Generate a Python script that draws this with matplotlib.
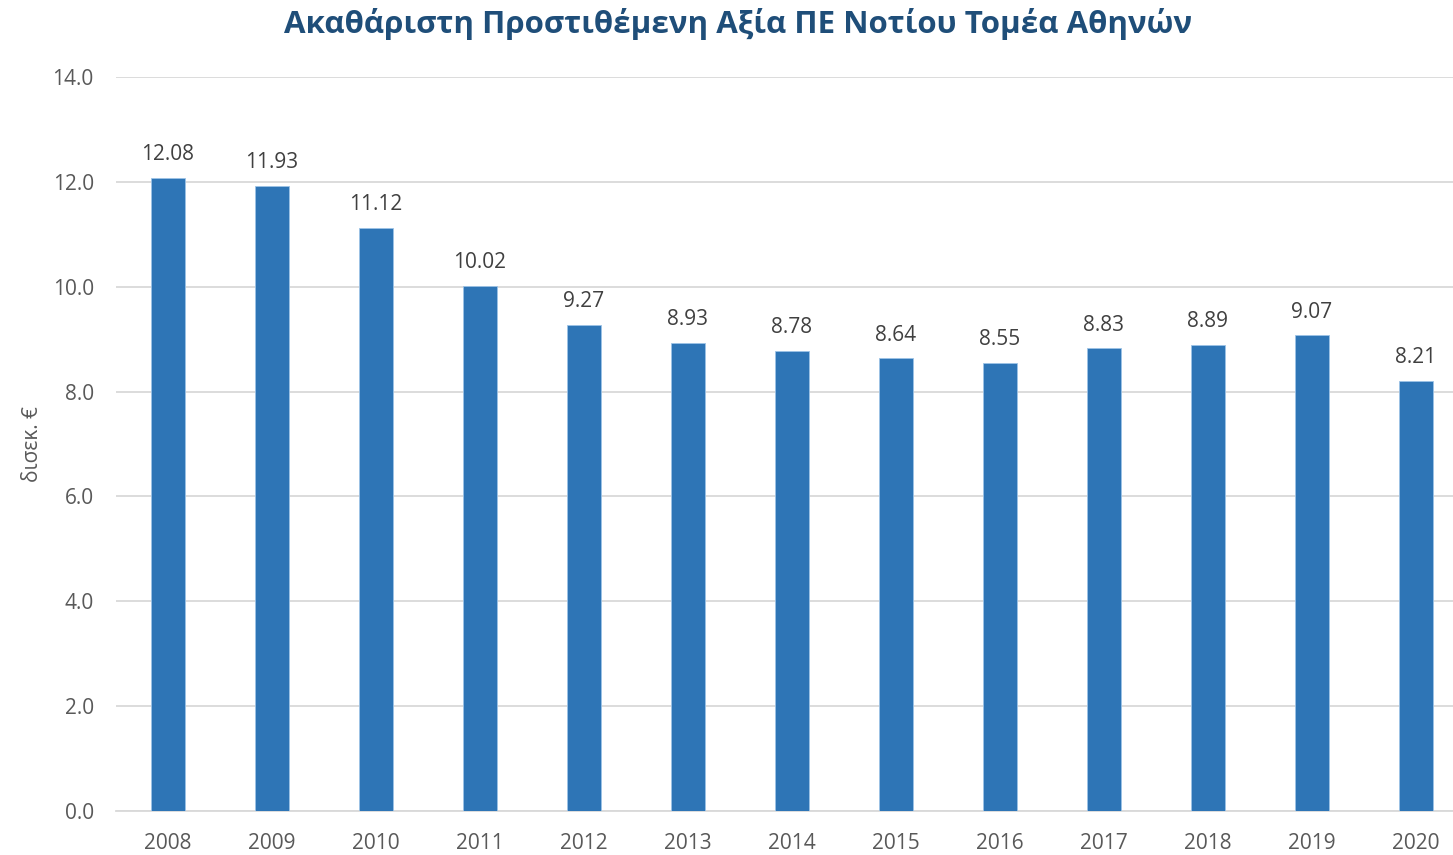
import matplotlib
matplotlib.use("Agg")
import matplotlib.pyplot as plt

# Ακαθάριστη Προστιθέμενη Αξία, δισεκ. €
years = ["2008", "2009", "2010", "2011", "2012", "2013", "2014",
         "2015", "2016", "2017", "2018", "2019", "2020"]
gva = [12.08, 11.93, 11.12, 10.02, 9.27, 8.93, 8.78,
       8.64, 8.55, 8.83, 8.89, 9.07, 8.21]

plt.rcParams["font.family"] = ["Open Sans", "DejaVu Sans"]

W, H = 1453, 855
fig = plt.figure(figsize=(W / 100, H / 100), dpi=100)
left, right, top, bottom = 116, 116 + 13 * 104, 77, 811
ax = fig.add_axes([left / W, (H - bottom) / H, (right - left) / W, (bottom - top) / H])

x = range(len(years))
bars = ax.bar(x, gva, width=0.32, color="#2E75B6", edgecolor="#9DC3E6", linewidth=0.6, zorder=3)

for i, v in zip(x, gva):
    ax.annotate(f"{v:.2f}", (i, v), xytext=(0, 9), textcoords="offset points",
                ha="center", va="bottom", fontsize=15, color="#404040")

ax.set_xlim(-0.5, len(years) - 0.5)
ax.set_ylim(0, 14)
ax.set_yticks([0, 2, 4, 6, 8, 10, 12, 14])
ax.set_yticklabels([f"{t:.1f}" for t in ax.get_yticks()])
ax.set_xticks(list(x))
ax.set_xticklabels(years)

ax.grid(axis="y", color="#D9D9D9", linewidth=1.3, zorder=0)
for s in ["top", "right", "left"]:
    ax.spines[s].set_visible(False)
ax.spines["bottom"].set_color("#D9D9D9")
ax.spines["bottom"].set_linewidth(1.3)
ax.tick_params(axis="both", length=0, labelsize=15, labelcolor="#595959")
ax.tick_params(axis="x", pad=16)
ax.tick_params(axis="y", pad=16)

ax.set_ylabel("δισεκ. €", fontsize=15, color="#595959", labelpad=7)

fig.text(0.508, 0.972, "Ακαθάριστη Προστιθέμενη Αξία ΠΕ Νοτίου Τομέα Αθηνών",
         ha="center", va="center", fontsize=22.5, fontweight="bold", color="#1F4E79")

fig.savefig("out.png", dpi=100)
